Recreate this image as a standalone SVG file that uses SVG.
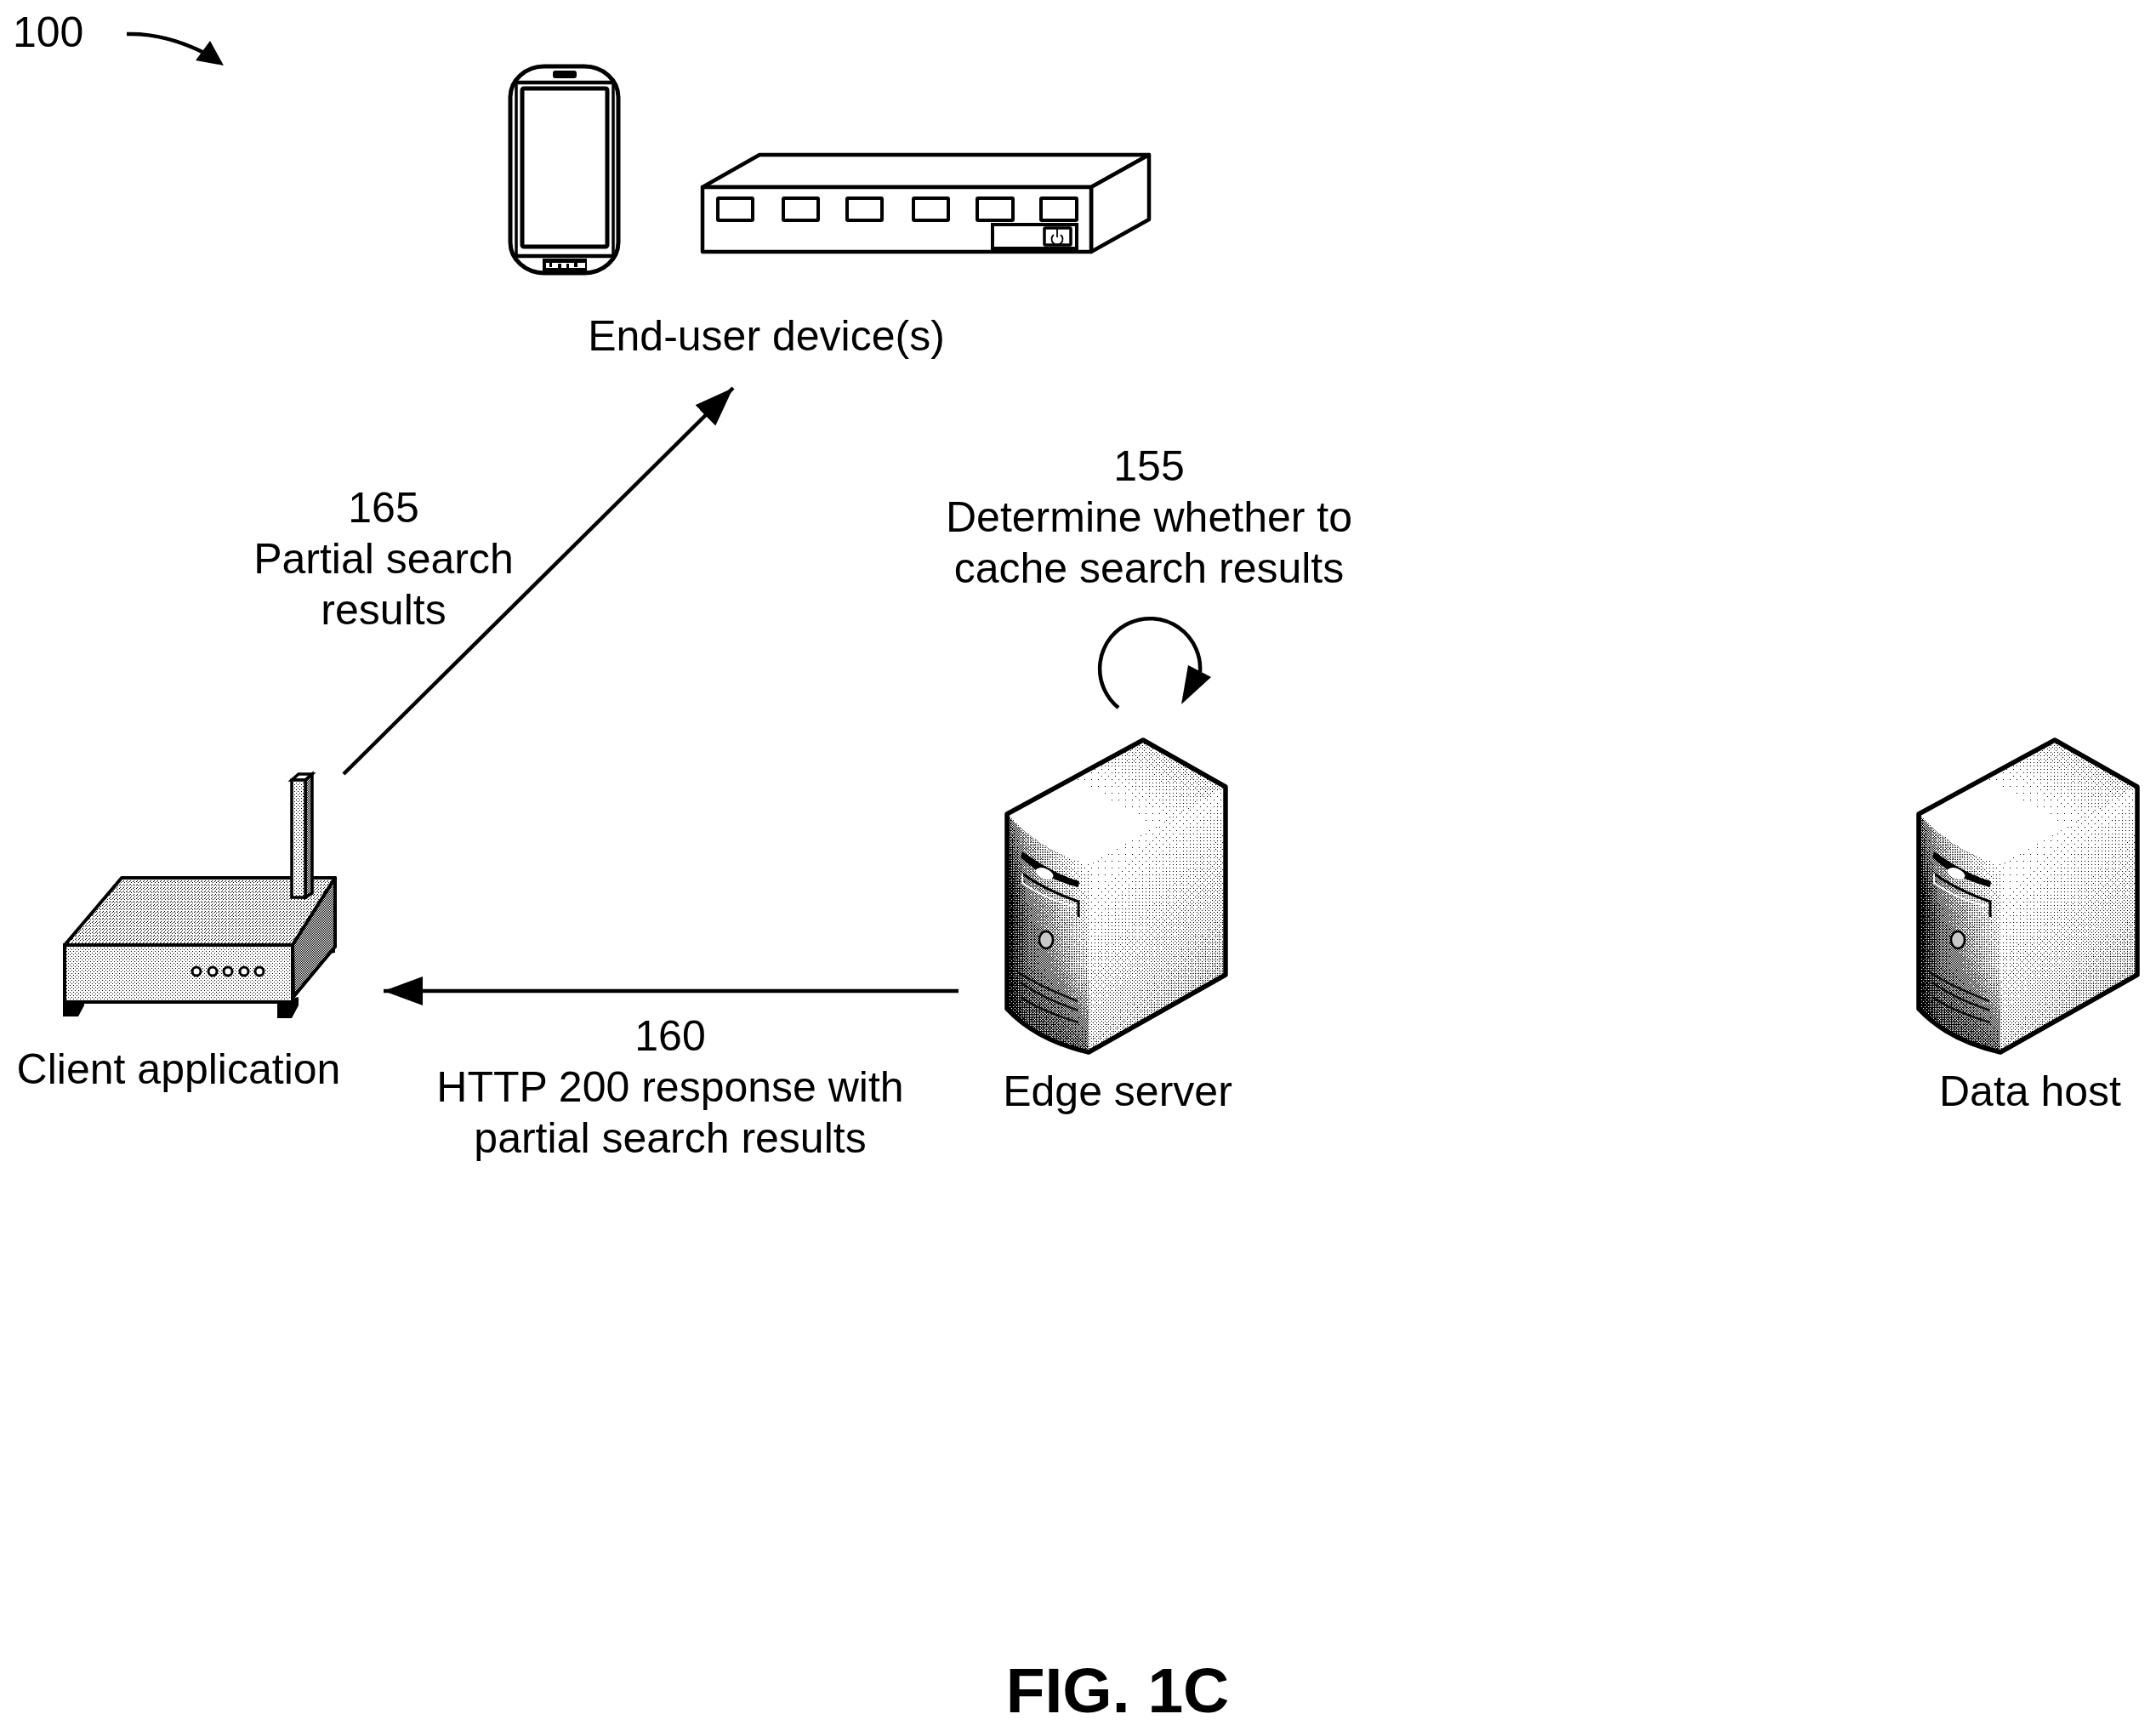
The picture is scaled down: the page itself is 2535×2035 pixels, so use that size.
<svg xmlns="http://www.w3.org/2000/svg" width="2535" height="2035" viewBox="0 0 2535 2035">
<style>
text{font-family:"Liberation Sans",Arial,sans-serif;font-size:50px;fill:#000;text-anchor:middle}
.fig{font-size:75px;font-weight:bold}
.ln{fill:none;stroke:#000;stroke-width:4.5}
.conn{fill:none;stroke:#000;stroke-width:4.5}
.wh{fill:#fff;stroke:#000;stroke-width:4.5;stroke-linejoin:round}
.port{fill:#fff;stroke:#000;stroke-width:4}
.blk{fill:#000;stroke:none}
.b{width:1px;height:1px}
</style>
<defs>
<pattern id="dotFront" width="4" height="4" patternUnits="userSpaceOnUse"><rect width="4" height="4" fill="#fff"/><rect x="0" y="0" width="1" height="1" fill="#000"/><rect x="2" y="2" width="1" height="1" fill="#000"/></pattern>
<pattern id="dotTop" width="4" height="4" patternUnits="userSpaceOnUse"><rect width="4" height="4" fill="#fff"/><rect x="0" y="0" width="1" height="1" fill="#000"/><rect x="2" y="1" width="1" height="1" fill="#000"/><rect x="1" y="3" width="1" height="1" fill="#000"/></pattern>
<pattern id="dotSide" width="2" height="2" patternUnits="userSpaceOnUse"><rect width="2" height="2" fill="#fff"/><rect x="0" y="0" width="1" height="1" fill="#000"/><rect x="1" y="1" width="1" height="1" fill="#000"/></pattern>
<pattern id="bayer" width="8" height="8" patternUnits="userSpaceOnUse" shape-rendering="crispEdges">
<rect class="b" x="0" y="0" fill="rgb(2,2,2)"/><rect class="b" x="1" y="0" fill="rgb(130,130,130)"/><rect class="b" x="2" y="0" fill="rgb(34,34,34)"/><rect class="b" x="3" y="0" fill="rgb(162,162,162)"/><rect class="b" x="4" y="0" fill="rgb(10,10,10)"/><rect class="b" x="5" y="0" fill="rgb(138,138,138)"/><rect class="b" x="6" y="0" fill="rgb(42,42,42)"/><rect class="b" x="7" y="0" fill="rgb(170,170,170)"/>
<rect class="b" x="0" y="1" fill="rgb(194,194,194)"/><rect class="b" x="1" y="1" fill="rgb(66,66,66)"/><rect class="b" x="2" y="1" fill="rgb(226,226,226)"/><rect class="b" x="3" y="1" fill="rgb(98,98,98)"/><rect class="b" x="4" y="1" fill="rgb(202,202,202)"/><rect class="b" x="5" y="1" fill="rgb(74,74,74)"/><rect class="b" x="6" y="1" fill="rgb(234,234,234)"/><rect class="b" x="7" y="1" fill="rgb(106,106,106)"/>
<rect class="b" x="0" y="2" fill="rgb(50,50,50)"/><rect class="b" x="1" y="2" fill="rgb(178,178,178)"/><rect class="b" x="2" y="2" fill="rgb(18,18,18)"/><rect class="b" x="3" y="2" fill="rgb(146,146,146)"/><rect class="b" x="4" y="2" fill="rgb(58,58,58)"/><rect class="b" x="5" y="2" fill="rgb(186,186,186)"/><rect class="b" x="6" y="2" fill="rgb(26,26,26)"/><rect class="b" x="7" y="2" fill="rgb(154,154,154)"/>
<rect class="b" x="0" y="3" fill="rgb(242,242,242)"/><rect class="b" x="1" y="3" fill="rgb(114,114,114)"/><rect class="b" x="2" y="3" fill="rgb(210,210,210)"/><rect class="b" x="3" y="3" fill="rgb(82,82,82)"/><rect class="b" x="4" y="3" fill="rgb(250,250,250)"/><rect class="b" x="5" y="3" fill="rgb(122,122,122)"/><rect class="b" x="6" y="3" fill="rgb(218,218,218)"/><rect class="b" x="7" y="3" fill="rgb(90,90,90)"/>
<rect class="b" x="0" y="4" fill="rgb(14,14,14)"/><rect class="b" x="1" y="4" fill="rgb(142,142,142)"/><rect class="b" x="2" y="4" fill="rgb(46,46,46)"/><rect class="b" x="3" y="4" fill="rgb(174,174,174)"/><rect class="b" x="4" y="4" fill="rgb(6,6,6)"/><rect class="b" x="5" y="4" fill="rgb(134,134,134)"/><rect class="b" x="6" y="4" fill="rgb(38,38,38)"/><rect class="b" x="7" y="4" fill="rgb(166,166,166)"/>
<rect class="b" x="0" y="5" fill="rgb(206,206,206)"/><rect class="b" x="1" y="5" fill="rgb(78,78,78)"/><rect class="b" x="2" y="5" fill="rgb(238,238,238)"/><rect class="b" x="3" y="5" fill="rgb(110,110,110)"/><rect class="b" x="4" y="5" fill="rgb(198,198,198)"/><rect class="b" x="5" y="5" fill="rgb(70,70,70)"/><rect class="b" x="6" y="5" fill="rgb(230,230,230)"/><rect class="b" x="7" y="5" fill="rgb(102,102,102)"/>
<rect class="b" x="0" y="6" fill="rgb(62,62,62)"/><rect class="b" x="1" y="6" fill="rgb(190,190,190)"/><rect class="b" x="2" y="6" fill="rgb(30,30,30)"/><rect class="b" x="3" y="6" fill="rgb(158,158,158)"/><rect class="b" x="4" y="6" fill="rgb(54,54,54)"/><rect class="b" x="5" y="6" fill="rgb(182,182,182)"/><rect class="b" x="6" y="6" fill="rgb(22,22,22)"/><rect class="b" x="7" y="6" fill="rgb(150,150,150)"/>
<rect class="b" x="0" y="7" fill="rgb(254,254,254)"/><rect class="b" x="1" y="7" fill="rgb(126,126,126)"/><rect class="b" x="2" y="7" fill="rgb(222,222,222)"/><rect class="b" x="3" y="7" fill="rgb(94,94,94)"/><rect class="b" x="4" y="7" fill="rgb(246,246,246)"/><rect class="b" x="5" y="7" fill="rgb(118,118,118)"/><rect class="b" x="6" y="7" fill="rgb(214,214,214)"/><rect class="b" x="7" y="7" fill="rgb(86,86,86)"/>
</pattern>
<filter id="dither" filterUnits="userSpaceOnUse" x="1170" y="860" width="300" height="400" color-interpolation-filters="sRGB">
<feComponentTransfer><feFuncR type="discrete" tableValues="0 1"/><feFuncG type="discrete" tableValues="0 1"/><feFuncB type="discrete" tableValues="0 1"/></feComponentTransfer>
</filter>
<clipPath id="srvClip"><path d="M1189,961L1349,874L1446,929V1150L1285,1241C1250,1233 1215,1218 1189,1190Z"/></clipPath>
<linearGradient id="srvFront" gradientUnits="userSpaceOnUse" x1="1189" y1="1100" x2="1285" y2="1100"><stop offset="0" stop-color="#000"/><stop offset=".12" stop-color="#333"/><stop offset=".25" stop-color="#666"/><stop offset=".6" stop-color="#8c8c8c"/><stop offset="1" stop-color="#c0c0c0"/></linearGradient>
<linearGradient id="srvFrontHi" gradientUnits="userSpaceOnUse" x1="1285" y1="1004" x2="1195" y2="1054"><stop offset="0" stop-color="#fff" stop-opacity=".95"/><stop offset="1" stop-color="#fff" stop-opacity="0"/></linearGradient>
<linearGradient id="srvFrontLo" gradientUnits="userSpaceOnUse" x1="1250" y1="1140" x2="1250" y2="1241"><stop offset="0" stop-color="#000" stop-opacity="0"/><stop offset="1" stop-color="#000" stop-opacity=".5"/></linearGradient>
<linearGradient id="srvRight" gradientUnits="userSpaceOnUse" x1="1285" y1="1000" x2="1446" y2="1170"><stop offset="0" stop-color="#fff"/><stop offset=".25" stop-color="#f6f6f6"/><stop offset=".7" stop-color="#dcdcdc"/><stop offset="1" stop-color="#bcbcbc"/></linearGradient>
<linearGradient id="srvTop" gradientUnits="userSpaceOnUse" x1="1349" y1="874" x2="1300" y2="955"><stop offset="0" stop-color="#e0e0e0"/><stop offset=".7" stop-color="#fafafa"/><stop offset="1" stop-color="#fff"/></linearGradient>
<marker id="head" markerUnits="userSpaceOnUse" markerWidth="48" markerHeight="34" refX="46" refY="17" orient="auto"><path d="M0,0L46,17L0,34Z"/></marker>
<g id="server">
<g filter="url(#dither)">
<path d="M1189,961L1349,874L1446,929L1285,1022C1250,1010 1215,990 1189,961Z" fill="url(#srvTop)"/>
<path d="M1285,1022L1446,929V1150L1285,1241Z" fill="url(#srvRight)"/>
<path d="M1189,961C1215,993 1250,1012 1285,1020V1241C1250,1233 1215,1218 1189,1190Z" fill="url(#srvFront)"/>
<path d="M1189,961C1215,993 1250,1012 1285,1020V1241C1250,1233 1215,1218 1189,1190Z" fill="url(#srvFrontLo)"/>
<path d="M1189,961C1215,993 1250,1012 1285,1020V1241C1250,1233 1215,1218 1189,1190Z" fill="url(#srvFrontHi)"/>
<rect x="1180" y="870" width="280" height="380" fill="url(#bayer)" opacity=".5" clip-path="url(#srvClip)"/>
</g>
<path d="M1189,961L1349,874L1446,929V1150L1285,1241C1250,1233 1215,1218 1189,1190Z" fill="none" stroke="#000" stroke-width="5.5" stroke-linejoin="round"/>
<path d="M1207,1005C1228,1020 1250,1033 1274,1040L1273,1047C1245,1040 1222,1028 1205,1012Z" class="blk"/>
<ellipse cx="1233" cy="1031" rx="11" ry="6" fill="#fff" transform="rotate(22 1233 1031)"/>
<path d="M1207,1031C1225,1044 1250,1056 1273,1064V1082" fill="none" stroke="#000" stroke-width="3"/>
<path d="M1207,1031V1042C1225,1055 1250,1065 1270,1070" fill="none" stroke="#fff" stroke-width="2"/>
<ellipse cx="1235" cy="1109" rx="8" ry="10" fill="#c8c8c8" stroke="#000" stroke-width="2.5"/>
<path d="M1202,1147C1225,1162 1250,1172 1272,1181M1205,1159C1225,1174 1250,1184 1273,1192M1205,1176C1225,1190 1250,1199 1273,1206" fill="none" stroke="#000" stroke-width="2.5" opacity=".85"/>
</g>
</defs>

<g id="connectors">
<path id="ref-100-arrow" d="M149,40C180,39 212,48 240,62" class="conn"/>
<path d="M263,77L247,48L230,71Z" class="blk"/>
<path id="arrow-165" d="M404,910L862,456" class="conn" marker-end="url(#head)"/>
<path id="arrow-160" d="M1127,1165H451" class="conn" marker-end="url(#head)"/>
<path id="loop-155" d="M1315,832A59,59 0 1 1 1411,790" class="conn"/>
<path d="M1389,828L1424,796L1397,782Z" class="blk"/>
</g>

<g id="label-100"><text x="15" y="55" style="text-anchor:start">100</text></g>

<g id="end-user-devices">
<g id="phone">
<rect x="600" y="78" width="127" height="243" rx="40" ry="36" class="wh" style="stroke-width:5"/>
<path d="M605,97H723M605,301H723" class="ln" style="stroke-width:4.5"/>
<path d="M607,97V301M721,97V301" class="ln" style="stroke-width:3.5"/>
<rect x="614" y="104" width="100" height="186" rx="2" class="wh" style="stroke-width:5"/>
<rect x="650" y="83" width="28" height="9" rx="3" class="blk"/>
<rect x="638" y="304" width="52" height="15" class="blk"/>
<rect x="642" y="309" width="46" height="6" fill="#fff"/>
<path d="M646,309h3v5h-3zM656,310h4v5h-4zM666,310h3v5h-3zM675,309h4v5h-4z" class="blk"/>
</g>
<g id="switch">
<path d="M826,220L893,182H1351L1283,220Z" class="wh"/>
<path d="M1283,220L1351,182V258L1283,296Z" class="wh"/>
<rect x="826" y="220" width="457" height="76" class="wh"/>
<rect x="844" y="233" width="41" height="26" rx="1" class="port"/>
<rect x="921" y="233" width="41" height="26" rx="1" class="port"/>
<rect x="996" y="233" width="41" height="26" rx="1" class="port"/>
<rect x="1074" y="233" width="41" height="26" rx="1" class="port"/>
<rect x="1149" y="233" width="42" height="26" rx="1" class="port"/>
<rect x="1224" y="233" width="42" height="26" rx="1" class="port"/>
<rect x="1167" y="264" width="99" height="28" class="port"/>
<rect x="1228" y="268" width="31" height="20" rx="1" class="wh" style="stroke-width:3.5"/>
<path d="M1239,276A6.5,6.5 0 1 0 1247,276M1243,269V279" fill="none" stroke="#000" stroke-width="1.8"/>
</g>
<text x="901" y="412">End-user device(s)</text>
</g>

<g id="client-application">
<path d="M326,1178L351,1172V1182L343,1197H326ZM74,1178H99V1182L92,1195H74ZM378,1121L394,1110V1120L387,1121Z" class="blk"/>
<path d="M76,1111L143,1032H394L344,1111Z" fill="url(#dotTop)" stroke="#000" stroke-width="4" stroke-linejoin="round"/>
<path d="M344,1111L394,1032V1113L345,1172Z" fill="url(#dotSide)" stroke="#000" stroke-width="4" stroke-linejoin="round"/>
<rect x="76" y="1111" width="268" height="67" fill="url(#dotFront)" stroke="#000" stroke-width="4"/>
<path d="M343,917L351,910H367L359,917Z" fill="#fff" stroke="#000" stroke-width="3.5"/>
<path d="M359,917L367,910V1050L359,1055Z" fill="url(#dotSide)" stroke="#000" stroke-width="3.5"/>
<rect x="343" y="917" width="16" height="138" fill="url(#dotFront)" stroke="#000" stroke-width="3.5"/>
<g fill="#fff" stroke="#000" stroke-width="3"><circle cx="231" cy="1142" r="5"/><circle cx="250" cy="1142" r="5"/><circle cx="268" cy="1142" r="5"/><circle cx="287" cy="1142" r="5"/><circle cx="305" cy="1142" r="5"/></g>
<text x="210" y="1274">Client application</text>
</g>

<g id="edge-server">
<use href="#server" x="-5" y="-4"/>
<text x="1314" y="1300">Edge server</text>
</g>

<g id="data-host">
<use href="#server" x="1067" y="-4"/>
<text x="2387" y="1300">Data host</text>
</g>

<g id="label-165"><text x="451" y="614">165</text><text x="451" y="674">Partial search</text><text x="451" y="734">results</text></g>
<g id="label-155"><text x="1351" y="565">155</text><text x="1351" y="625">Determine whether to</text><text x="1351" y="685">cache search results</text></g>
<g id="label-160"><text x="788" y="1235">160</text><text x="788" y="1295">HTTP 200 response with</text><text x="788" y="1355">partial search results</text></g>
<g id="figure-label"><text x="1314" y="2013" class="fig">FIG. 1C</text></g>
</svg>
